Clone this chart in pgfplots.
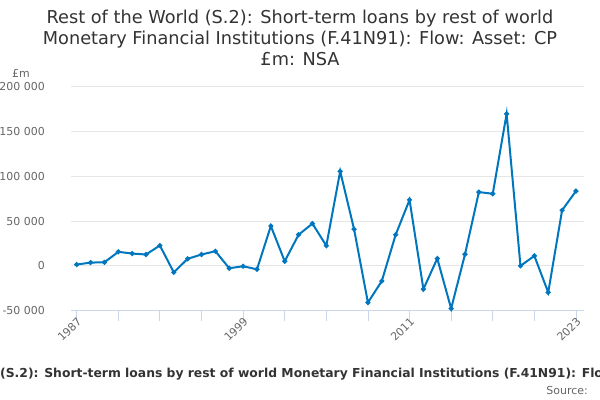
\documentclass[border=0pt]{standalone}
\usepackage{fontspec}
\setmainfont{DejaVu Sans}
\usepackage{pgfplots}
\pgfplotsset{compat=1.18}

\definecolor{onsblue}{HTML}{0076BF}
\definecolor{gridgrey}{HTML}{E6E6E6}
\definecolor{axisgrey}{HTML}{CCD6EB}
\definecolor{labelgrey}{HTML}{666666}
\definecolor{titlegrey}{HTML}{333333}

\begin{document}
\begin{tikzpicture}
\useasboundingbox (0bp,0bp) rectangle (600bp,400bp);

% title
\begin{scope}[font=\fontsize{17.8}{21}\selectfont, text=titlegrey]
\node[anchor=base, inner sep=0] at (300bp,376bp) {Rest of the World (S.2): Short-term loans by rest of world};
\node[anchor=base, inner sep=0] at (300bp,355bp) {Monetary Financial Institutions (F.41N91): Flow: Asset: CP};
\node[anchor=base, inner sep=0] at (300bp,334bp) {£m: NSA};
\end{scope}

\node[anchor=base west, inner sep=0, text=labelgrey, font=\fontsize{11}{13}\selectfont] at (12bp,322bp) {£m};

\begin{axis}[
  at={(71bp,89.3bp)}, anchor=south west,
  scale only axis, width=513bp, height=224bp,
  xmin=1986.59, xmax=2023.58,
  ymin=-50000, ymax=200000,
  scaled y ticks=false,
  axis x line*=bottom, axis y line*=left,
  x axis line style={draw=axisgrey, line width=0.8bp, -},
  y axis line style={draw=none},
  xtick={1987,1990,...,2023},
  xticklabels={1987,,,,1999,,,,2011,,,,2023},
  tick align=outside,
  major tick length=10bp,
  xtick style={draw=axisgrey, line width=0.8bp},
  ytick={-50000,0,50000,100000,150000,200000},
  yticklabels={-50 000,0,50 000,100 000,150 000,200 000},
  ytick style={draw=none},
  ymajorgrids,
  grid style={draw=gridgrey, line width=0.8bp},
  yticklabel style={anchor=east, inner sep=0, xshift=-16bp, text=labelgrey, font=\fontsize{11}{13}\selectfont},
  xticklabel style={rotate=45, anchor=east, inner sep=0, xshift=3bp, yshift=-1bp, text=labelgrey, font=\fontsize{11}{13}\selectfont},
  clip=false,
]
\addplot[color=onsblue, line width=2bp, mark=*, mark size=1.4bp] coordinates {
(1987,1500) (1988,3700) (1989,4000) (1990,15700) (1991,13800) (1992,12700)
(1993,22800) (1994,-7200) (1995,7900) (1996,12700) (1997,16400) (1998,-2600)
(1999,-400) (2000,-3800) (2001,44500) (2002,5200) (2003,34800) (2004,47200)
(2005,22500) (2006,105600) (2007,41000) (2008,-40900) (2009,-16900) (2010,34800)
(2011,73700) (2012,-25900) (2013,8200) (2014,-47600) (2015,13000) (2016,82400)
(2017,80500) (2018,169700) (2019,0) (2020,11200) (2021,-29600) (2022,62100)
(2023,83500)
};
\end{axis}

% footer
\begin{scope}[font=\fontsize{12.4}{14}\selectfont\bfseries, text=titlegrey]
\node[anchor=base east, inner sep=0] at (0bp,23bp) {Rest of the World\ };
\node[anchor=base west, inner sep=0] at (0bp,23bp) {(S.2): Short-term loans by rest of world Monetary Financial Institutions (F.41N91): Flow: Asset: CP £m: NSA};
\end{scope}
\node[anchor=base east, inner sep=0, text=labelgrey, font=\fontsize{11}{13}\selectfont] at (588bp,6bp) {Source:};
\end{tikzpicture}
\end{document}
